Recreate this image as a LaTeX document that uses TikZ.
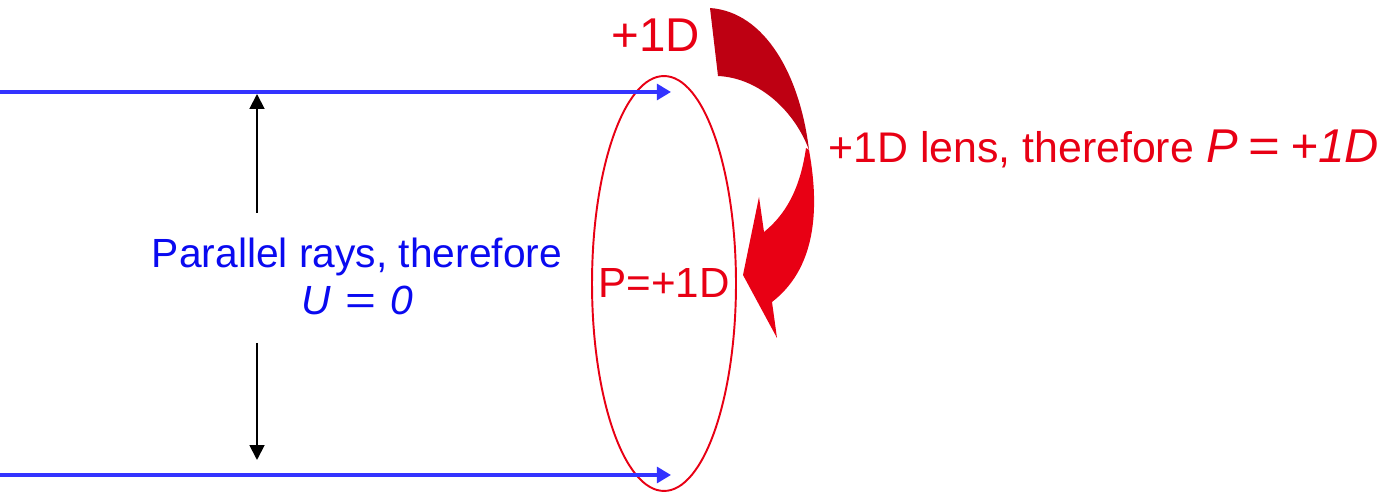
\documentclass[tikz,border=0pt]{standalone}
\usepackage{fontspec}
\setmainfont{Liberation Sans}
\usetikzlibrary{arrows.meta,shapes.geometric}
\definecolor{raybl}{RGB}{51,51,255}
\definecolor{txtbl}{RGB}{10,10,240}
\definecolor{lensred}{RGB}{232,0,20}
\definecolor{turnred}{RGB}{190,0,18}
\tikzset{
  ray/.style={raybl,line width=1.9pt,-{Triangle[length=8pt,width=9pt]}},
  gaparrow/.style={black,line width=1.1pt,-{Triangle[length=8.5pt,width=8.5pt]}},
  redlabel/.style={text=lensred,inner sep=0pt,font=\fontsize{24}{29}\selectfont},
  bluelabel/.style={text=txtbl,inner sep=0pt,align=center,font=\fontsize{23.2}{27.3}\selectfont},
}
\begin{document}
\begin{tikzpicture}[x=0.02cm,y=-0.02cm]
\useasboundingbox (0,0) rectangle (1386,492);

% thin lens
\node[ellipse,draw=lensred,line width=1.1pt,minimum width=2.88cm,minimum height=8.3cm,inner sep=0pt] (lens) at (664,283.5) {};
\node[redlabel] (lenspower) at (lens.center) {P=+1D};

% parallel rays
\coordinate (topstart) at (0,92);
\coordinate (topend) at (671,92);
\coordinate (botstart) at (0,475);
\coordinate (botend) at (671,475);
\draw[ray] (topstart) -- (topend);
\draw[ray] (botstart) -- (botend);

\node[bluelabel,anchor=base] (par) at (357,315) {Parallel rays, therefore\\\textit{U}\hspace{8pt}\scalebox{1.3}[1]{=}\hspace{8pt}\textit{0}};
\coordinate (gapa) at (257,213);
\coordinate (gapb) at (257,94);
\coordinate (gapc) at (257,343);
\coordinate (gapd) at (257,460);
\draw[gaparrow] (gapa) -- (gapb);
\draw[gaparrow] (gapc) -- (gapd);

% turning arrow
\fill[lensred] (809,150) .. controls (818,200) and (820,265) .. (772,302)
  -- (777,338) -- (743,275) -- (759,197) -- (764,232)
  .. controls (785,215) and (800,190) .. (806,148) -- cycle;
\fill[turnred] (710,8) .. controls (765,12) and (800,75) .. (809,150)
  .. controls (795,112) and (760,78) .. (718,76) -- cycle;

\node[redlabel,anchor=base,font=\fontsize{27}{32}\selectfont] (plusone) at (656,52) {+1D};
\node[redlabel,anchor=base west,font=\fontsize{24.4}{29}\selectfont] (lenstext) at (828,163) {+1D lens, therefore {\fontsize{27}{30}\selectfont\textit{P}\hspace{6pt}\scalebox{1.15}[1]{=}\hspace{6pt}\textit{+1D}}};
\end{tikzpicture}
\end{document}
